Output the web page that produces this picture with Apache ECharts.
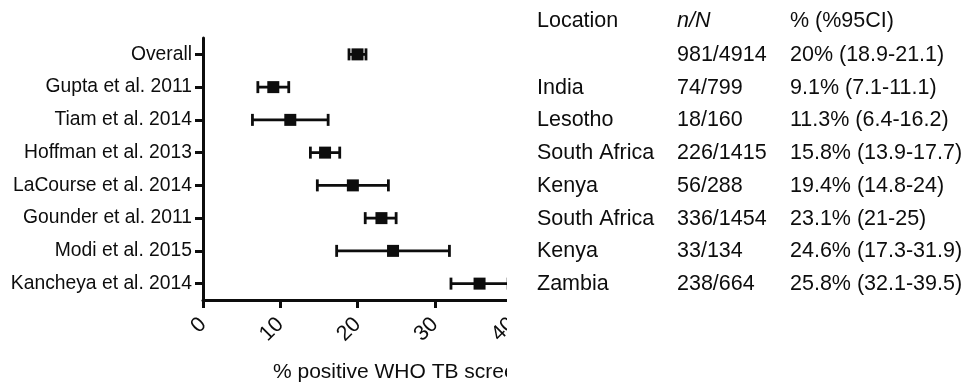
<!DOCTYPE html>
<html>
<head>
<meta charset="utf-8">
<script src="https://cdn.jsdelivr.net/npm/echarts@6/dist/echarts.min.js"></script>
<style>
html,body{margin:0;padding:0;background:#fff;}
#chart{width:972px;height:386px;}
</style>
</head>
<body>
<div id="chart"></div>
<script>
// ---- data ----
var studies = ['Overall','Gupta et al. 2011','Tiam et al. 2014','Hoffman et al. 2013','LaCourse et al. 2014','Gounder et al. 2011','Modi et al. 2015','Kancheya et al. 2014'];
var estimates = [20, 9.1, 11.3, 15.8, 19.4, 23.1, 24.6, 35.8];
var ciLow = [18.9, 7.1, 6.4, 13.9, 14.8, 21, 17.3, 32.1];
var ciHigh = [21.1, 11.1, 16.2, 17.7, 24, 25, 31.9, 39.5];
var xTicks = [0, 10, 20, 30, 40];
var xTitle = '% positive WHO TB screen';

var tableHeader = ['Location', 'n/N', '% (%95CI)'];
var locations = ['', 'India', 'Lesotho', 'South Africa', 'Kenya', 'South Africa', 'Kenya', 'Zambia'];
var counts = ['981/4914', '74/799', '18/160', '226/1415', '56/288', '336/1454', '33/134', '238/664'];
var pctCI = ['20% (18.9-21.1)', '9.1% (7.1-11.1)', '11.3% (6.4-16.2)', '15.8% (13.9-17.7)', '19.4% (14.8-24)', '23.1% (21-25)', '24.6% (17.3-31.9)', '25.8% (32.1-39.5)'];

var ink = '#0d0d0d';
var font = '"Liberation Sans", Arial, Helvetica, sans-serif';

var chart = echarts.init(document.getElementById('chart'), null, {renderer: 'canvas'});

var seriesData = studies.map(function (s, i) {
  return [ciLow[i], ciHigh[i], estimates[i], i];
});

var rowY0 = 55, rowStep = 32.75;
var graphics = [];
var colX = [537, 677, 790];
tableHeader.forEach(function (h, c) {
  graphics.push({
    type: 'text', x: colX[c], y: 21, z: 10,
    style: {text: h, fill: ink, font: (c === 1 ? 'italic ' : '') + '21.5px ' + font, verticalAlign: 'middle', align: 'left'}
  });
});
for (var i = 0; i < studies.length; i++) {
  var cols = [locations[i], counts[i], pctCI[i]];
  for (var c = 0; c < 3; c++) {
    if (!cols[c]) continue;
    graphics.push({
      type: 'text', x: colX[c], y: rowY0 + i * rowStep, z: 10,
      style: {text: cols[c], fill: ink, font: '21.5px ' + font, verticalAlign: 'middle', align: 'left'}
    });
  }
}
// axis title (clipped by the mask below, as in the reference)
graphics.push({
  type: 'text', x: 273, y: 372, z: 5,
  style: {text: xTitle, fill: ink, font: '21px ' + font, verticalAlign: 'middle', align: 'left'}
});
// clipping mask for the cropped right edge of the plot
graphics.push({
  type: 'rect', shape: {x: 507, y: 0, width: 22, height: 386}, z: 100,
  style: {fill: '#fff'}, silent: true
});

chart.setOption({
  animation: false,
  backgroundColor: '#fff',
  grid: {left: 203, right: 460, top: 38, bottom: 86, containLabel: false},
  xAxis: {
    type: 'value', min: 0, max: 40, interval: 10,
    axisLine: {show: true, lineStyle: {color: ink, width: 3}},
    axisTick: {show: true, length: 8, lineStyle: {color: ink, width: 3}},
    splitLine: {show: false},
    axisLabel: {
      rotate: 45, margin: 21, color: ink, fontSize: 21.5, fontFamily: font,
      customValues: xTicks
    }
  },
  yAxis: {
    type: 'category', data: studies, inverse: true, boundaryGap: true,
    axisLine: {show: true, lineStyle: {color: ink, width: 3}},
    axisTick: {show: true, alignWithLabel: true, length: 8, lineStyle: {color: ink, width: 3}},
    splitLine: {show: false},
    axisLabel: {color: ink, fontSize: 19.3, fontFamily: font, margin: 11}
  },
  graphic: graphics,
  series: [{
    type: 'custom',
    data: seriesData,
    encode: {x: [0, 1, 2], y: 3},
    clip: false,
    renderItem: function (params, api) {
      var cat = api.value(3);
      var lo = api.coord([api.value(0), cat]);
      var hi = api.coord([api.value(1), cat]);
      var est = api.coord([api.value(2), cat]);
      var cap = 6, half = 6;
      var st = {stroke: ink, lineWidth: 2.8, fill: null};
      return {
        type: 'group',
        children: [
          {type: 'line', shape: {x1: lo[0], y1: lo[1], x2: hi[0], y2: hi[1]}, style: st},
          {type: 'line', shape: {x1: lo[0], y1: lo[1] - cap, x2: lo[0], y2: lo[1] + cap}, style: st},
          {type: 'line', shape: {x1: hi[0], y1: hi[1] - cap, x2: hi[0], y2: hi[1] + cap}, style: st},
          {type: 'rect', shape: {x: est[0] - half, y: est[1] - half, width: half * 2, height: half * 2}, style: {fill: ink}}
        ]
      };
    }
  }]
});
</script>
</body>
</html>
